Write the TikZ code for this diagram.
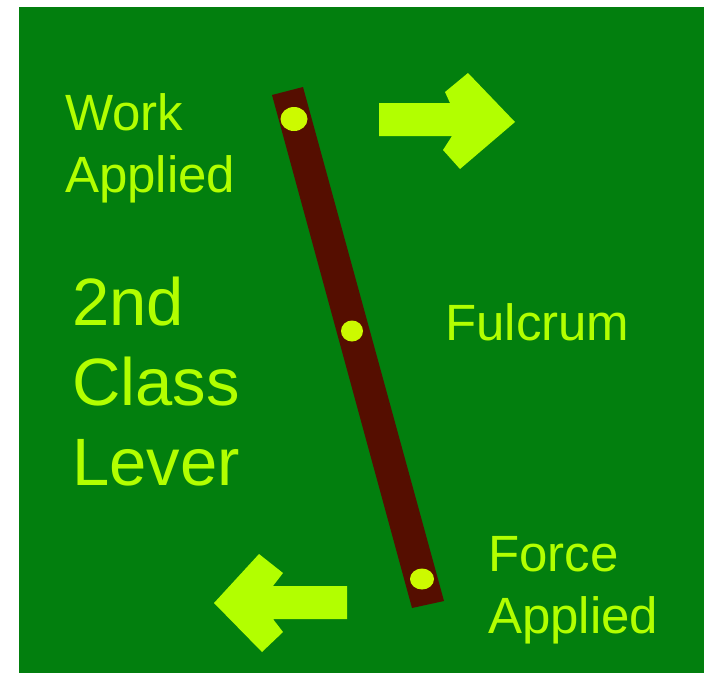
\documentclass[tikz,border=0pt]{standalone}
\usepackage{fontspec}
\setmainfont{Liberation Sans}
\usetikzlibrary{shapes.geometric}
\definecolor{bggreen}{RGB}{2,127,14}
\definecolor{lime}{RGB}{178,255,0}
\definecolor{dotlime}{RGB}{204,250,0}
\definecolor{leverbrown}{RGB}{85,14,0}
\begin{document}
\begin{tikzpicture}[x=1pt,y=-1pt,
  lbl/.style={text=lime,inner sep=0pt,align=left,anchor=base west,
    font=\fontsize{51}{62}\selectfont},
  biglbl/.style={text=lime,inner sep=0pt,align=left,anchor=base west,
    font=\fontsize{67}{80}\selectfont},
  pivot/.style={ellipse,fill=dotlime,inner sep=0pt},
  bigarrow/.style={fill=lime}]
\useasboundingbox (0,0) rectangle (704,673);
\fill[white] (0,0) rectangle (704,673);
\fill[bggreen] (19,7) rectangle (704,673);
% lever
\fill[leverbrown] (272,95) -- (303,87) -- (444,601) -- (412,608) -- cycle;
% pivot points
\node[pivot,minimum width=27pt,minimum height=24pt] (work) at (294,119) {};
\node[pivot,minimum width=22pt,minimum height=21pt] (fulc) at (352,331) {};
\node[pivot,minimum width=24pt,minimum height=21pt] (force) at (422,579) {};
% arrows
\fill[bigarrow] (379,103) -- (450,103) -- (445,92) -- (468,73) -- (515,122)
  -- (460,169) -- (443,150) -- (452,136) -- (379,136) -- cycle;
\fill[bigarrow] (347,586) -- (273,586) -- (283,573) -- (259,554) -- (214,603)
  -- (262,652) -- (283,632) -- (273,619) -- (347,619) -- cycle;
% labels
\node[lbl] (worklbl) at (65,192) {Work\\Applied};
\node[biglbl] (title) at (72,485) {2nd\\Class\\Lever};
\node[lbl] (fulclbl) at (445,340) {Fulcrum};
\node[lbl] (forcelbl) at (488,633) {Force\\Applied};
\end{tikzpicture}
\end{document}
